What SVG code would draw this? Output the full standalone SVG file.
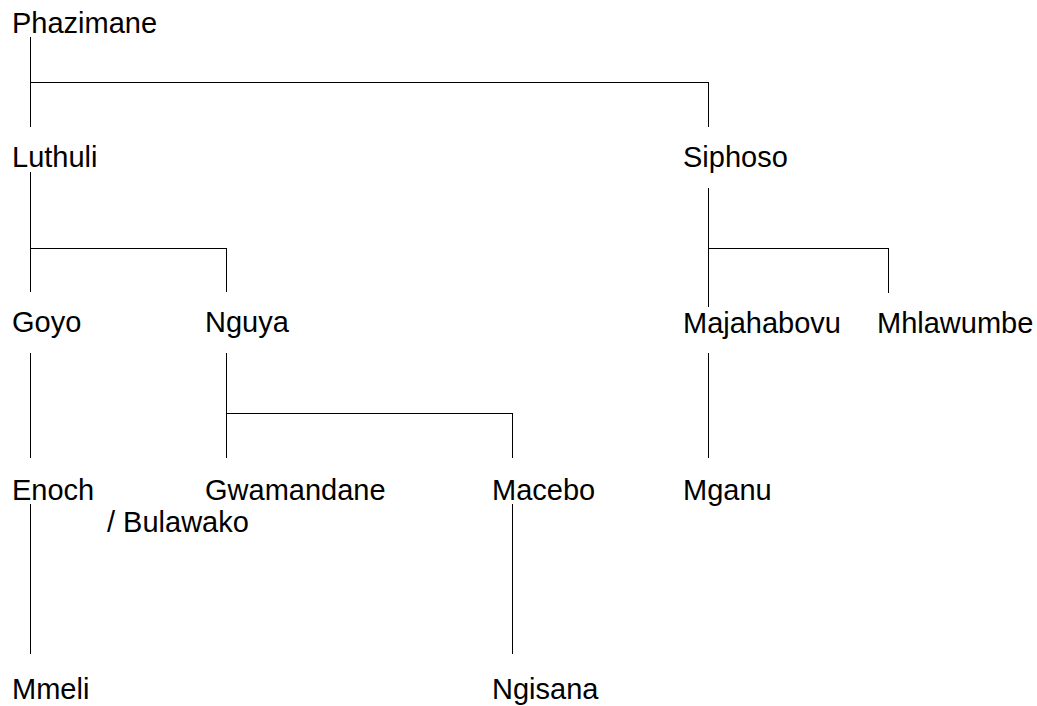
<svg xmlns="http://www.w3.org/2000/svg" width="1037" height="706" viewBox="0 0 1037 706">
<style>
text{font-family:"Liberation Sans",Arial,sans-serif;font-size:29px;fill:#000}
.c line{stroke:#000;stroke-width:1}
</style>
<rect width="1037" height="706" fill="#fff"/>
<g class="c" id="connectors">
<line x1="30.5" y1="37" x2="30.5" y2="127"/>
<line x1="30" y1="82.5" x2="708" y2="82.5"/>
<line x1="708.5" y1="82" x2="708.5" y2="127"/>
<line x1="30.5" y1="172" x2="30.5" y2="292"/>
<line x1="30" y1="248.5" x2="226" y2="248.5"/>
<line x1="226.5" y1="248" x2="226.5" y2="292"/>
<line x1="708.5" y1="188" x2="708.5" y2="307"/>
<line x1="708" y1="248.5" x2="888" y2="248.5"/>
<line x1="888.5" y1="248" x2="888.5" y2="293"/>
<line x1="30.5" y1="353" x2="30.5" y2="458"/>
<line x1="226.5" y1="353" x2="226.5" y2="458"/>
<line x1="226" y1="413.5" x2="512" y2="413.5"/>
<line x1="512.5" y1="413" x2="512.5" y2="458"/>
<line x1="708.5" y1="353" x2="708.5" y2="458"/>
<line x1="30.5" y1="504" x2="30.5" y2="654"/>
<line x1="512.5" y1="504" x2="512.5" y2="654"/>
</g>
<g id="phazimane"><text x="12" y="33">Phazimane</text></g>
<g id="luthuli"><text x="12" y="167">Luthuli</text></g>
<g id="siphoso"><text x="683" y="167">Siphoso</text></g>
<g id="goyo"><text x="12" y="332">Goyo</text></g>
<g id="nguya"><text x="205" y="332">Nguya</text></g>
<g id="majahabovu"><text x="683" y="333">Majahabovu</text></g>
<g id="mhlawumbe"><text x="877" y="333">Mhlawumbe</text></g>
<g id="enoch"><text x="12" y="500">Enoch</text></g>
<g id="gwamandane"><text x="205" y="500">Gwamandane</text><text x="107" y="532">/ Bulawako</text></g>
<g id="macebo"><text x="492" y="500">Macebo</text></g>
<g id="mganu"><text x="683" y="500">Mganu</text></g>
<g id="mmeli"><text x="12" y="699">Mmeli</text></g>
<g id="ngisana"><text x="492" y="699">Ngisana</text></g>
</svg>
